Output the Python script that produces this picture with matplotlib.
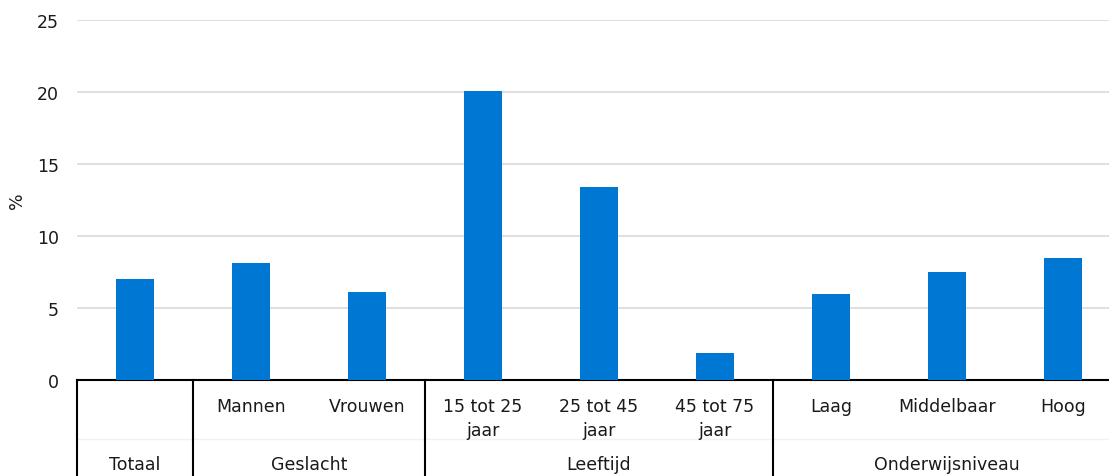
import matplotlib.pyplot as plt

# Data
categories = ['', 'Mannen', 'Vrouwen', '15 tot 25\njaar', '25 tot 45\njaar',
              '45 tot 75\njaar', 'Laag', 'Middelbaar', 'Hoog']
values = [7.0, 8.1, 6.1, 20.1, 13.4, 1.9, 6.0, 7.5, 8.5]
groups = ['Totaal', 'Geslacht', 'Leeftijd', 'Onderwijsniveau']
group_sizes = [1, 2, 3, 3]

plt.rcParams['font.family'] = ['DejaVu Sans']
fs = 12.5
tc = '#1a1a1a'

fig = plt.figure(figsize=(11.09, 4.77), dpi=100)
# the category area runs a little past the right edge of the picture
ax = fig.add_axes([77 / 1109, (477 - 381) / 477, 1044 / 1109, (381 - 21) / 477])

x = range(len(values))
ax.bar(x, values, width=0.32, color='#0077d3', zorder=3)

ax.set_xlim(-0.5, len(values) - 0.5)
ax.set_ylim(0, 25)
ax.set_yticks([0, 5, 10, 15, 20, 25])
ax.yaxis.grid(True, color='#d9d9d9', linewidth=1.2)
ax.set_axisbelow(True)
ax.tick_params(axis='y', length=0, labelsize=fs, pad=13, colors=tc)
ax.set_xticks([])
for s in ['left', 'right', 'top']:
    ax.spines[s].set_visible(False)
ax.spines['bottom'].set_color('black')
ax.spines['bottom'].set_linewidth(1.5)
ax.set_ylabel('%', fontsize=fs, color=tc, va='center')
ax.yaxis.set_label_coords(-0.0575, 0.5)

# category labels (first row)
for i, c in enumerate(categories):
    ax.text(i, -1.15, c, ha='center', va='top', fontsize=fs,
            color=tc, linespacing=1.45, clip_on=False)

# faint row divider
ax.plot([-0.5, len(values) - 0.5], [-4.1, -4.1], color='#f2f2f2', lw=1, clip_on=False)

# group labels and separators
bottom = -6.7
start = 0
ax.plot([-0.5, -0.5], [0, bottom], color='black', lw=1.5, clip_on=False)
for g, n in zip(groups, group_sizes):
    end = start + n
    ax.text((start + end - 1) / 2, -5.85, g, ha='center', va='center',
            fontsize=fs, color=tc, clip_on=False)
    ax.plot([end - 0.5, end - 0.5], [0, bottom], color='black', lw=1.5, clip_on=False)
    start = end

fig.savefig('out.png', dpi=100)
